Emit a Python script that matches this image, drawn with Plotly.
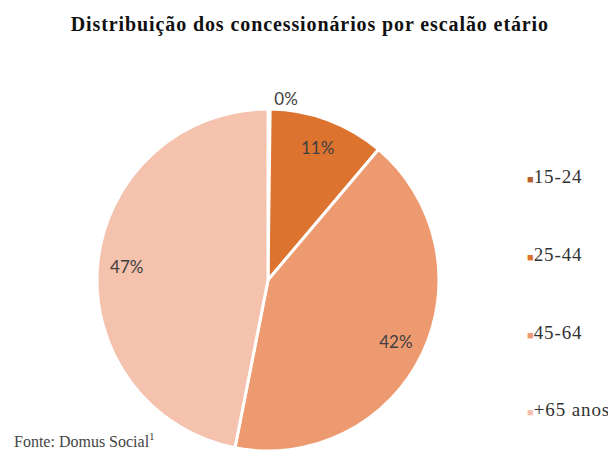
import plotly.graph_objects as go

categories = ["15-24", "25-44", "45-64", "+65 anos"]
values = [0.2, 11, 42, 47]
pct_labels = ["0%", "11%", "42%", "47%"]
colors = ["#B5622C", "#DC7430", "#EE9A70", "#F4C2AD"]

W, H = 616, 455
TXT = "#404040"
CLR = "rgba(0,0,0,0)"
dom = dict(x=[89 / W, 431 / W], y=[0, 355 / H])
positions = ["outside", "inside", "inside", "inside"]

fig = go.Figure()
# coloured pie (shows only the outside label)
fig.add_trace(go.Pie(
    labels=categories, values=values, text=pct_labels,
    textinfo="text", sort=False, direction="clockwise", rotation=0,
    marker=dict(colors=colors, line=dict(color="white", width=3)),
    textposition=positions, insidetextorientation="horizontal",
    textfont=dict(family="Lato", size=17, color=[TXT, CLR, CLR, CLR]),
    domain=dom, showlegend=False, hoverinfo="label+percent",
))
# transparent ring overlay that places the inside labels further out
fig.add_trace(go.Pie(
    labels=categories, values=values, text=pct_labels, hole=0.66,
    textinfo="text", sort=False, direction="clockwise", rotation=0,
    marker=dict(colors=[CLR] * 4, line=dict(width=0)),
    textposition=positions, insidetextorientation="horizontal",
    textfont=dict(family="Lato", size=17, color=[CLR, TXT, TXT, TXT]),
    domain=dom, showlegend=False, hoverinfo="skip",
))

for cat, col in zip(categories, colors):
    fig.add_trace(go.Scatter(
        x=[None], y=[None], mode="markers", legendgroup=cat,
        name=(f"<span style='color:{col};font-size:11px'>■</span>"
              f"<span style='letter-spacing:0.9px'>{cat}</span>"),
        marker=dict(symbol="square", size=1, color=CLR),
    ))

fig.update_layout(
    width=W, height=H,
    margin=dict(l=0, r=0, t=0, b=0),
    paper_bgcolor="white", plot_bgcolor="white",
    xaxis=dict(visible=False), yaxis=dict(visible=False),
    title=dict(text="<b><span style='letter-spacing:0.9px'>Distribuição dos concessionários por escalão etário</span></b>",
               x=0.49, xanchor="center", y=0.965, yanchor="middle",
               font=dict(family="Liberation Serif", size=20, color="#111111")),
    legend=dict(x=479 / W, xanchor="left", y=1 - 152 / H, yanchor="top",
                tracegroupgap=50, itemwidth=30,
                font=dict(family="Liberation Serif", size=19, color="#333333"),
                bgcolor="rgba(0,0,0,0)"),
    annotations=[dict(text="Fonte: Domus Social<sup>1</sup>", x=4 / W, y=(H - 453) / H,
                      xref="paper", yref="paper", xanchor="left", yanchor="bottom",
                      showarrow=False,
                      font=dict(family="Liberation Serif", size=16, color="#444444"))],
)

fig.write_html("out.html")
